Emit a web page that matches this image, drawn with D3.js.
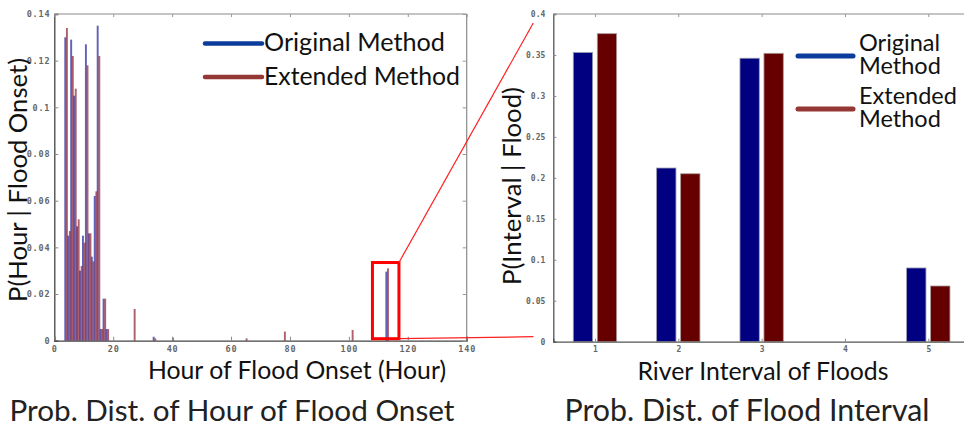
<!DOCTYPE html>
<html>
<head>
<meta charset="utf-8">
<script src="https://cdn.jsdelivr.net/npm/d3@7"></script>
<style>
  html, body { margin: 0; padding: 0; background: #fff; }
  svg { display: block; }
</style>
</head>
<body>
<svg id="chart" width="964" height="431"></svg>
<script>
// ---- Probability of flood onset by hour ----
const onsetHours    = [4, 5, 6, 7, 8, 9, 10, 11, 12, 13, 14, 15, 16, 17, 18, 27, 34, 40, 65, 78, 101, 113];
const onsetOriginal = [0.130, 0.045, 0.129, 0.105, 0.049, 0.030, 0.045, 0.127, 0.046, 0.036, 0.062, 0.135, 0.005, 0.018, 0.005, 0.000, 0.0017, 0.000, 0.000, 0.000, 0.000, 0.0296];
const onsetExtended = [0.134, 0.047, 0.122, 0.108, 0.052, 0.032, 0.042, 0.118, 0.046, 0.034, 0.064, 0.122, 0.005, 0.018, 0.005, 0.0136, 0.0010, 0.0013, 0.0010, 0.0039, 0.0046, 0.0310];
const onsetXTicks = [0, 20, 40, 60, 80, 100, 120, 140];
const onsetYTicks = [0, 0.02, 0.04, 0.06, 0.08, 0.1, 0.12, 0.14];
const zoomHours = [108, 117];
const zoomProb  = [0, 0.0335];

// ---- Probability of flood by river interval ----
const intervals         = [1, 2, 3, 4, 5];
const intervalOriginal  = [0.353, 0.212, 0.346, 0, 0.090];
const intervalExtended  = [0.376, 0.205, 0.352, 0, 0.068];
const intervalYTicks    = [0, 0.05, 0.1, 0.15, 0.2, 0.25, 0.3, 0.35, 0.4];

const seriesNames = ["Original Method", "Extended Method"];

const svg = d3.select("#chart");
const tickFont = "'DejaVu Sans Mono', monospace";
const textFont = "Lato, 'Open Sans', sans-serif";
const probFormat = d => d === 0 ? "0" : String(+d.toFixed(2));

// scale a text element so it spans the wanted width
function fitWidth(sel, width) {
  const node = sel.node();
  let size = parseFloat(sel.attr("font-size"));
  for (let i = 0; i < 3; i++) {
    const w = node.getComputedTextLength();
    size = size * width / w;
    sel.attr("font-size", size);
  }
  return sel;
}

// ================= Left panel =================
const L = { left: 54.3, right: 466.7, top: 14, bottom: 340.7 };
const xL = d3.scaleLinear().domain([0, 140]).range([L.left, L.right]);
const yL = d3.scaleLinear().domain([0, 0.14]).range([L.bottom, L.top]);

const gL = svg.append("g");

// frame top / right
gL.append("line").attr("x1", L.left).attr("x2", L.right).attr("y1", L.top).attr("y2", L.top)
  .attr("stroke", "#8a8a8a").attr("stroke-width", 1.2);
gL.append("line").attr("x1", L.right).attr("x2", L.right).attr("y1", L.top).attr("y2", L.bottom)
  .attr("stroke", "#8a8a8a").attr("stroke-width", 1.2);

// bars
const onsetData = onsetHours.map((h, i) => ({ h, o: onsetOriginal[i], e: onsetExtended[i] }));
gL.selectAll("rect.orig").data(onsetData.filter(d => d.o > 0)).join("rect")
  .attr("class", "orig")
  .attr("x", d => xL(d.h - 0.6)).attr("width", d => xL(d.h + 0.05) - xL(d.h - 0.6))
  .attr("y", d => yL(d.o)).attr("height", d => yL(0) - yL(d.o))
  .attr("fill", "#3a3aa6").attr("fill-opacity", 0.8);
gL.selectAll("rect.ext").data(onsetData.filter(d => d.e > 0)).join("rect")
  .attr("class", "ext")
  .attr("x", d => xL(d.h - 0.05)).attr("width", d => xL(d.h + 0.6) - xL(d.h - 0.05))
  .attr("y", d => yL(d.e)).attr("height", d => yL(0) - yL(d.e))
  .attr("fill", "#8c2434").attr("fill-opacity", 0.72);

// axes
const axL = gL.append("g").attr("transform", `translate(${L.left},0)`)
  .call(d3.axisLeft(yL).tickValues(onsetYTicks).tickSize(-4).tickPadding(4).tickFormat(probFormat));
const axB = gL.append("g").attr("transform", `translate(0,${L.bottom})`)
  .call(d3.axisBottom(xL).tickValues(onsetXTicks).tickSize(-4).tickPadding(5).tickFormat(d3.format("d")));
const axR = gL.append("g").attr("transform", `translate(${L.right},0)`)
  .call(d3.axisRight(yL).tickValues(onsetYTicks).tickSize(-4).tickFormat(""));
const axT = gL.append("g").attr("transform", `translate(0,${L.top})`)
  .call(d3.axisTop(xL).tickValues(onsetXTicks).tickSize(-3).tickFormat(""));
[axR, axT].forEach(a => { a.select(".domain").remove(); a.selectAll("line").attr("stroke", "#999"); });
[axL, axB].forEach(a => {
  a.select(".domain").attr("stroke", "#444").attr("stroke-width", 1.3);
  a.selectAll(".tick line").attr("stroke", "#888");
  a.selectAll("text").attr("font-family", tickFont).attr("font-size", 8.5)
    .attr("font-weight", "bold").attr("fill", "#666").attr("letter-spacing", 0.8);
});

// highlight box around the late onset bar
gL.append("rect")
  .attr("x", xL(zoomHours[0])).attr("y", yL(zoomProb[1]))
  .attr("width", xL(zoomHours[1]) - xL(zoomHours[0]))
  .attr("height", yL(zoomProb[0]) - yL(zoomProb[1]) - 2)
  .attr("fill", "none").attr("stroke", "#ff0000").attr("stroke-width", 3);

// legend
const legL = [{ name: seriesNames[0], color: "#0b3c9c", y: 43.5 }, { name: seriesNames[1], color: "#953735", y: 77 }];
legL.forEach((d, i) => {
  gL.append("line").attr("x1", 205).attr("x2", 262).attr("y1", d.y).attr("y2", d.y)
    .attr("stroke", d.color).attr("stroke-width", 4.5).attr("stroke-linecap", "round");
  const t = gL.append("text").attr("x", 264).attr("y", d.y + 7.5)
    .attr("font-family", textFont).attr("font-size", 22).attr("fill", "#111").text(d.name);
  fitWidth(t, i === 0 ? 181 : 196);
});

// axis titles
fitWidth(svg.append("text").attr("x", 297).attr("y", 379).attr("text-anchor", "middle")
  .attr("font-family", textFont).attr("font-size", 22).attr("fill", "#111")
  .text("Hour of Flood Onset (Hour)"), 298);
fitWidth(svg.append("text").attr("transform", "translate(27,180) rotate(-90)").attr("text-anchor", "middle")
  .attr("font-family", textFont).attr("font-size", 22).attr("fill", "#111")
  .text("P(Hour  | Flood Onset)"), 244);
fitWidth(svg.append("text").attr("x", 232).attr("y", 421).attr("text-anchor", "middle")
  .attr("font-family", textFont).attr("font-size", 26).attr("fill", "#222")
  .text("Prob. Dist. of Hour of Flood Onset"), 445);

// ================= Right panel =================
const R = { left: 553.3, top: 14, bottom: 341.7 };
const xR = d3.scaleLinear().domain([0.5, 5.5]).range([R.left, R.left + 5 * 83.33]);
const yR = d3.scaleLinear().domain([0, 0.4]).range([R.bottom, R.top]);
const gR = svg.append("g");

gR.append("line").attr("x1", R.left).attr("x2", 964).attr("y1", R.top).attr("y2", R.top)
  .attr("stroke", "#8a8a8a").attr("stroke-width", 1.2);

const barW = 0.232, gap = 0.028;
const intData = intervals.map((k, i) => ({ k, o: intervalOriginal[i], e: intervalExtended[i] }));
gR.selectAll("rect.orig").data(intData.filter(d => d.o > 0)).join("rect")
  .attr("class", "orig")
  .attr("x", d => xR(d.k - gap - barW)).attr("width", d => xR(d.k - gap) - xR(d.k - gap - barW))
  .attr("y", d => yR(d.o)).attr("height", d => yR(0) - yR(d.o))
  .attr("fill", "#000080").attr("stroke", "#9a9ab0").attr("stroke-width", 0.8);
gR.selectAll("rect.ext").data(intData.filter(d => d.e > 0)).join("rect")
  .attr("class", "ext")
  .attr("x", d => xR(d.k + gap)).attr("width", d => xR(d.k + gap + barW) - xR(d.k + gap))
  .attr("y", d => yR(d.e)).attr("height", d => yR(0) - yR(d.e))
  .attr("fill", "#660000").attr("stroke", "#a89a9a").attr("stroke-width", 0.8);

const axRL = gR.append("g").attr("transform", `translate(${R.left},0)`)
  .call(d3.axisLeft(yR).tickValues(intervalYTicks).tickSize(-3).tickPadding(8).tickFormat(probFormat));
const axRB = gR.append("g").attr("transform", `translate(0,${R.bottom})`)
  .call(d3.axisBottom(xR).tickValues(intervals).tickSize(-3).tickPadding(5).tickFormat(d3.format("d")));
const axRT = gR.append("g").attr("transform", `translate(0,${R.top})`)
  .call(d3.axisTop(xR).tickValues(intervals).tickSize(-3).tickFormat(""));
axRT.select(".domain").remove(); axRT.selectAll("line").attr("stroke", "#999");
[axRL, axRB].forEach(a => {
  a.select(".domain").attr("stroke", "#555").attr("stroke-width", 1.3);
  a.selectAll(".tick line").attr("stroke", "#888");
  a.selectAll("text").attr("font-family", tickFont).attr("font-size", 8)
    .attr("font-weight", "bold").attr("fill", "#666");
});

// connector lines from the highlight box to the right panel
svg.append("line")
  .attr("x1", xL(zoomHours[1])).attr("y1", yL(zoomProb[1]))
  .attr("x2", R.left - 20).attr("y2", yR(0.4) + 9)
  .attr("stroke", "#ff2020").attr("stroke-width", 1.2);
svg.append("line")
  .attr("x1", xL(zoomHours[1])).attr("y1", yL(0) - 2)
  .attr("x2", R.left - 20).attr("y2", yR(0) - 5)
  .attr("stroke", "#ff2020").attr("stroke-width", 1.2);

// legend: two-line labels as one text block each
const legR = [
  { words: ["Original", "Method"], color: "#0b3c9c", y: 56, ty: 50.7 },
  { words: ["Extended", "Method"], color: "#953735", y: 109, ty: 104 }
];
const legSize = 23.5, legLead = 23;
legR.forEach(d => {
  gR.append("line").attr("x1", 798).attr("x2", 853).attr("y1", d.y).attr("y2", d.y)
    .attr("stroke", d.color).attr("stroke-width", 5).attr("stroke-linecap", "round");
  const t = gR.append("text").attr("x", 859).attr("y", d.ty)
    .attr("font-family", textFont).attr("font-size", legSize).attr("fill", "#111");
  d.words.forEach((s, j) => {
    t.append("tspan").attr("x", 859).attr("dy", j === 0 ? 0 : legLead).text(s);
  });
});

fitWidth(svg.append("text").attr("x", 763).attr("y", 380).attr("text-anchor", "middle")
  .attr("font-family", textFont).attr("font-size", 22).attr("fill", "#111")
  .text("River Interval of Floods"), 251);
fitWidth(svg.append("text").attr("transform", "translate(521,186) rotate(-90)").attr("text-anchor", "middle")
  .attr("font-family", textFont).attr("font-size", 22).attr("fill", "#111")
  .text("P(Interval  | Flood)"), 198);
fitWidth(svg.append("text").attr("x", 747).attr("y", 421).attr("text-anchor", "middle")
  .attr("font-family", textFont).attr("font-size", 26).attr("fill", "#222")
  .text("Prob. Dist. of Flood Interval"), 365);
</script>
</body>
</html>
